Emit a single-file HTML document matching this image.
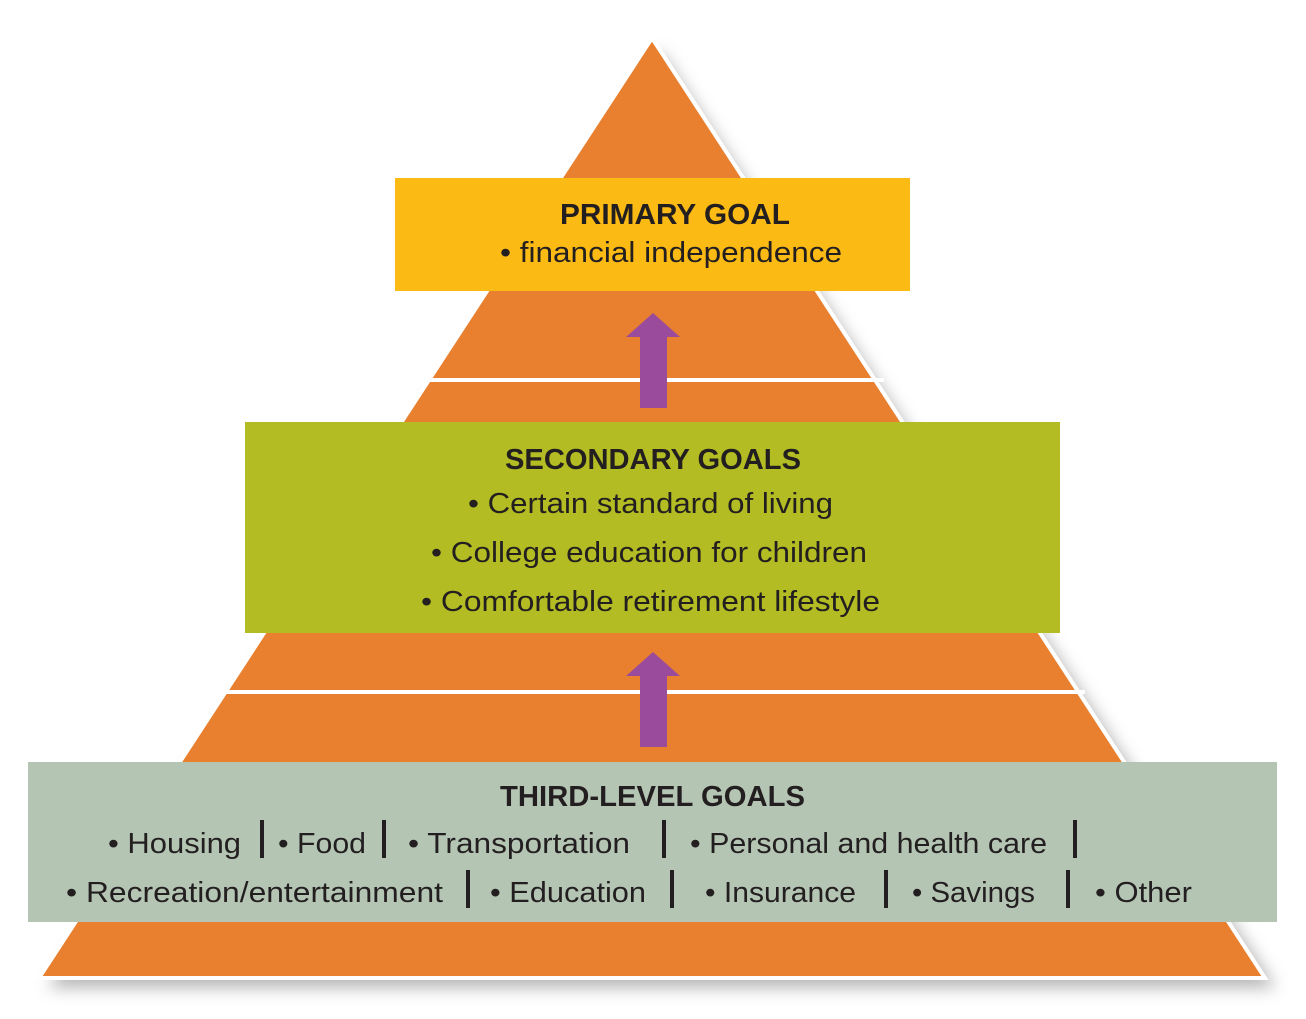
<!DOCTYPE html>
<html><head><style>
body{margin:0;width:1306px;height:1019px;background:#fff;overflow:hidden}
text{font-family:"Liberation Sans",sans-serif;fill:#231f20;font-size:29px}
.t{font-weight:bold}
</style></head><body>
<svg width="1306" height="1019" style="position:absolute;left:0;top:0">
<defs><filter id="s" x="-10%" y="-10%" width="120%" height="120%"><feGaussianBlur stdDeviation="8"/></filter></defs>
<polygon points="660,50 1276,988 48,988" fill="#999" filter="url(#s)" opacity="0.7"/>
<polygon points="652,38 1265,978 39,978" fill="#E8802F" stroke="#fff" stroke-width="4"/>
<line x1="420" y1="380" x2="884" y2="380" stroke="#fff" stroke-width="4"/>
<line x1="220" y1="692" x2="1085" y2="692" stroke="#fff" stroke-width="4"/>
<polygon points="653,313 680,337 667,337 667,408 640,408 640,337 626,337" fill="#9B4B9C"/>
<polygon points="653,652 680,676 667,676 667,747 640,747 640,676 626,676" fill="#9B4B9C"/>
<rect x="395" y="178" width="515" height="113" fill="#FBBA14"/>
<rect x="245" y="422" width="815" height="211" fill="#B3BC22"/>
<rect x="28" y="762" width="1249" height="160" fill="#B5C5B4"/>
<text class="t" x="560" y="224" textLength="230" lengthAdjust="spacingAndGlyphs">PRIMARY GOAL</text>
<text x="500" y="262" textLength="342" lengthAdjust="spacingAndGlyphs">• financial independence</text>
<text class="t" x="505" y="469" textLength="296" lengthAdjust="spacingAndGlyphs">SECONDARY GOALS</text>
<text x="468" y="513" textLength="365" lengthAdjust="spacingAndGlyphs">• Certain standard of living</text>
<text x="431" y="562" textLength="436" lengthAdjust="spacingAndGlyphs">• College education for children</text>
<text x="421" y="611" textLength="459" lengthAdjust="spacingAndGlyphs">• Comfortable retirement lifestyle</text>
<text class="t" x="500" y="806" textLength="305" lengthAdjust="spacingAndGlyphs">THIRD-LEVEL GOALS</text>
<text x="108" y="853" textLength="133" lengthAdjust="spacingAndGlyphs">• Housing</text>
<text x="278" y="853" textLength="88" lengthAdjust="spacingAndGlyphs">• Food</text>
<text x="408" y="853" textLength="222" lengthAdjust="spacingAndGlyphs">• Transportation</text>
<text x="690" y="853" textLength="357" lengthAdjust="spacingAndGlyphs">• Personal and health care</text>
<text x="66" y="902" textLength="377" lengthAdjust="spacingAndGlyphs">• Recreation/entertainment</text>
<text x="490" y="902" textLength="156" lengthAdjust="spacingAndGlyphs">• Education</text>
<text x="705" y="902" textLength="151" lengthAdjust="spacingAndGlyphs">• Insurance</text>
<text x="912" y="902" textLength="123" lengthAdjust="spacingAndGlyphs">• Savings</text>
<text x="1095" y="902" textLength="97" lengthAdjust="spacingAndGlyphs">• Other</text>
<g fill="#231f20">
<rect x="260" y="820" width="4" height="38"/><rect x="382" y="820" width="4" height="38"/><rect x="662" y="820" width="4" height="38"/><rect x="1073" y="820" width="4" height="38"/>
<rect x="466" y="870" width="4" height="38"/><rect x="670" y="870" width="4" height="38"/><rect x="884" y="870" width="4" height="38"/><rect x="1066" y="870" width="4" height="38"/>
</g>
</svg>
</body></html>
